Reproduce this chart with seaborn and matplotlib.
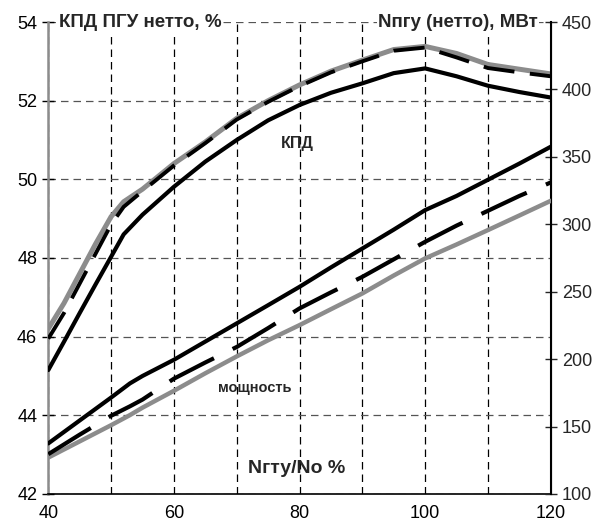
import pandas as pd
import seaborn as sns
import matplotlib.pyplot as plt

# ======================
# data
# ======================
x_kpd = [40, 42.5, 45, 47.5, 50, 52, 55, 60, 65, 70, 75, 80, 85, 90, 95, 100, 105, 110, 115, 120]
kpd_gray = [46.2, 46.85, 47.6, 48.35, 49.05, 49.43, 49.75, 50.4, 50.95, 51.55, 52.0, 52.4, 52.75,
            53.03, 53.3, 53.38, 53.2, 52.92, 52.8, 52.68]
kpd_dash = [45.95, 46.6, 47.35, 48.1, 48.85, 49.3, 49.7, 50.35, 50.92, 51.52, 51.97, 52.37, 52.72,
            53.0, 53.27, 53.35, 53.1, 52.83, 52.72, 52.62]
kpd_black = [45.15, 45.87, 46.6, 47.32, 48.03, 48.6, 49.1, 49.81, 50.45, 51.0, 51.5, 51.89, 52.2,
             52.44, 52.7, 52.82, 52.62, 52.38, 52.22, 52.08]

x_pow = [40, 45, 50, 53, 55, 60, 65, 70, 75, 80, 85, 90, 95, 100, 105, 110, 115, 120]
pow_black = [137.5, 154.5, 171.5, 182, 187.5, 199.5, 213, 226.5, 240, 253.6, 268, 282, 296, 310.5,
             321, 333, 345, 357.5]
pow_dash = [129.5, 144, 158, 165, 170, 185.5, 197.5, 209, 223, 237.6, 249.5, 261, 274, 287,
            299, 310, 321, 331]
pow_gray = [127, 139, 151, 158.5, 164, 176.5, 189.5, 202, 214, 225.2, 237, 248.7, 262, 274.7,
            285, 295.7, 306.5, 317.4]

df_kpd = pd.DataFrame({"x": x_kpd, "gray": kpd_gray, "dash": kpd_dash, "black": kpd_black})
df_pow = pd.DataFrame({"x": x_pow, "gray": pow_gray, "dash": pow_dash, "black": pow_black})

# ======================
# style
# ======================
sns.set_style("white")
plt.rcParams["font.family"] = ["Liberation Sans", "DejaVu Sans"]

fig = plt.figure(figsize=(6.05, 5.24), dpi=100)
ax = fig.add_axes([0.0798, 0.0573, 0.8305, 0.9007])
ax2 = ax.twinx()

GRAY = "#8c8c8c"

# КПД (left axis)
sns.lineplot(data=df_kpd, x="x", y="gray", ax=ax, color=GRAY, lw=3.6, zorder=3)
sns.lineplot(data=df_kpd, x="x", y="dash", ax=ax, color="black", lw=2.8, zorder=4)
ax.lines[-1].set_dashes((8, 4))
sns.lineplot(data=df_kpd, x="x", y="black", ax=ax, color="black", lw=3, zorder=4)

# мощность (right axis)
sns.lineplot(data=df_pow, x="x", y="gray", ax=ax2, color=GRAY, lw=3.2, zorder=3)
sns.lineplot(data=df_pow, x="x", y="dash", ax=ax2, color="black", lw=3, zorder=4)
ax2.lines[-1].set_dashes((12, 5))
sns.lineplot(data=df_pow, x="x", y="black", ax=ax2, color="black", lw=3, zorder=4)

# axes limits / ticks
ax.set_xlim(40, 120)
ax.set_ylim(42, 54)
ax2.set_ylim(100, 450)
ax.set_xticks(range(40, 121, 20))
ax.set_xticks(range(50, 120, 10), minor=True)
ax.set_yticks(range(42, 55, 2))
ax2.set_yticks(range(100, 451, 50))

ax.grid(True, which="both", axis="x", color="black", ls=(0, (6, 4)), lw=0.9)
ax.grid(True, which="major", axis="y", color="#555555", ls=(0, (6, 4)), lw=0.9)
ax.tick_params(axis="x", which="minor", length=0)
ax.tick_params(axis="both", which="major", direction="inout", length=9, width=1,
               labelsize=13, colors="black")
ax2.tick_params(axis="y", direction="inout", length=9, width=1, labelsize=13)

for a in (ax, ax2):
    a.set_xlabel("")
    a.set_ylabel("")
    a.spines["top"].set_visible(False)
ax.spines["left"].set_color(GRAY)
ax.spines["left"].set_linewidth(1.8)
ax.spines["bottom"].set_color("black")
ax.spines["bottom"].set_linewidth(1.2)
ax2.spines["left"].set_visible(False)
ax2.spines["bottom"].set_visible(False)
ax2.spines["right"].set_color("black")
ax2.spines["right"].set_linewidth(1.5)

# texts
box = dict(facecolor="white", edgecolor="none", pad=1)
ax.text(0.022, 1.0, "КПД ПГУ нетто, %", transform=ax.transAxes, ha="left", va="center",
        fontsize=13.5, fontweight="bold", bbox=box, zorder=6)
ax.text(0.975, 1.0, "Nпгу (нетто), МВт", transform=ax.transAxes, ha="right", va="center",
        fontsize=13.5, fontweight="bold", bbox=box, zorder=6)
ax2.text(79.6, 360, "КПД", ha="center", va="center", fontsize=11.5, fontweight="bold")
ax2.text(72.8, 178.5, "мощность", ha="center", va="center", fontsize=10.5, fontweight="bold")
ax2.text(79.5, 119, "Nгту/No %", ha="center", va="center", fontsize=14, fontweight="bold")

plt.savefig("out.png", dpi=100)
